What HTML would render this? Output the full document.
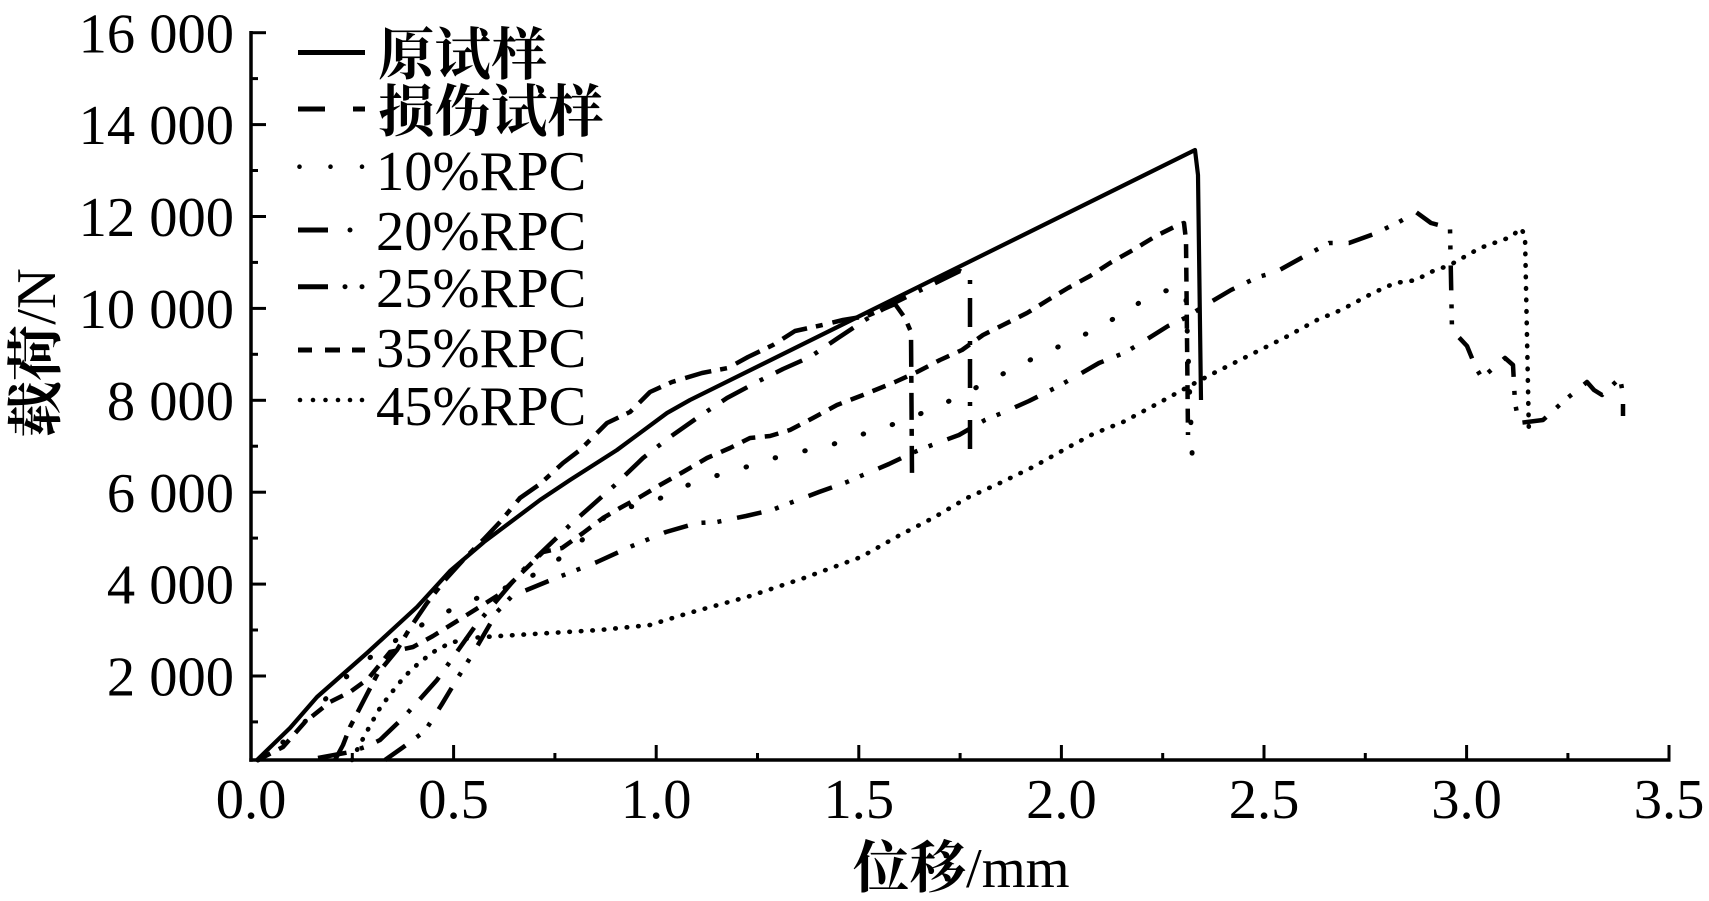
<!DOCTYPE html>
<html><head><meta charset="utf-8"><style>
html,body{margin:0;padding:0;background:#fff;}
svg{display:block;}
text{font-family:"Liberation Serif","Noto Serif CJK SC",serif;fill:#000;}
.cjk{font-family:"Noto Serif CJK SC","Liberation Serif",serif;font-weight:bold;}
</style></head><body>
<svg width="1709" height="901" viewBox="0 0 1709 901" xmlns="http://www.w3.org/2000/svg">
<rect width="1709" height="901" fill="#fff"/>

<!-- axes -->
<g stroke="#000" stroke-width="3.5" fill="none">
<line x1="251" y1="31" x2="251" y2="761.7"/>
<line x1="249.3" y1="760" x2="1670.5" y2="760"/>
</g>
<!-- y ticks -->
<g stroke="#000" stroke-width="3">
<line x1="251" y1="32.7" x2="266" y2="32.7"/><line x1="251" y1="124.6" x2="266" y2="124.6"/>
<line x1="251" y1="216.5" x2="266" y2="216.5"/><line x1="251" y1="308.4" x2="266" y2="308.4"/>
<line x1="251" y1="400.3" x2="266" y2="400.3"/><line x1="251" y1="492.2" x2="266" y2="492.2"/>
<line x1="251" y1="584.1" x2="266" y2="584.1"/><line x1="251" y1="676" x2="266" y2="676"/>
<line x1="251" y1="78.6" x2="258" y2="78.6"/><line x1="251" y1="170.5" x2="258" y2="170.5"/>
<line x1="251" y1="262.4" x2="258" y2="262.4"/><line x1="251" y1="354.3" x2="258" y2="354.3"/>
<line x1="251" y1="446.2" x2="258" y2="446.2"/><line x1="251" y1="538.1" x2="258" y2="538.1"/>
<line x1="251" y1="630" x2="258" y2="630"/><line x1="251" y1="721.9" x2="258" y2="721.9"/>
</g>
<!-- x ticks -->
<g stroke="#000" stroke-width="3">
<line x1="453.6" y1="760" x2="453.6" y2="745"/><line x1="656.2" y1="760" x2="656.2" y2="745"/>
<line x1="858.8" y1="760" x2="858.8" y2="745"/><line x1="1061.4" y1="760" x2="1061.4" y2="745"/>
<line x1="1264" y1="760" x2="1264" y2="745"/><line x1="1466.6" y1="760" x2="1466.6" y2="745"/>
<line x1="1669" y1="760" x2="1669" y2="745"/>
<line x1="352.3" y1="760" x2="352.3" y2="753"/><line x1="554.9" y1="760" x2="554.9" y2="753"/>
<line x1="757.5" y1="760" x2="757.5" y2="753"/><line x1="960.1" y1="760" x2="960.1" y2="753"/>
<line x1="1162.7" y1="760" x2="1162.7" y2="753"/><line x1="1365.3" y1="760" x2="1365.3" y2="753"/>
<line x1="1567.9" y1="760" x2="1567.9" y2="753"/>
</g>

<!-- y tick labels -->
<g font-size="56.5" text-anchor="end">
<text x="234" y="52.3">16 000</text>
<text x="234" y="144.2">14 000</text>
<text x="234" y="236.1">12 000</text>
<text x="234" y="328">10 000</text>
<text x="234" y="419.9">8 000</text>
<text x="234" y="511.8">6 000</text>
<text x="234" y="603.7">4 000</text>
<text x="234" y="695.6">2 000</text>
</g>
<!-- x tick labels -->
<g font-size="56.5" text-anchor="middle">
<text x="251" y="818">0.0</text>
<text x="453.6" y="818">0.5</text>
<text x="656.2" y="818">1.0</text>
<text x="858.8" y="818">1.5</text>
<text x="1061.4" y="818">2.0</text>
<text x="1264" y="818">2.5</text>
<text x="1466.6" y="818">3.0</text>
<text x="1669" y="818">3.5</text>
</g>

<!-- axis titles -->
<text x="853" y="887" font-size="56.5"><tspan class="cjk">位移</tspan>/mm</text>
<text transform="translate(55,353) rotate(-90)" font-size="56.5" text-anchor="middle"><tspan class="cjk">载荷</tspan>/N</text>

<!-- legend -->
<g font-size="56.5">
<text x="378" y="74" class="cjk">原试样</text>
<text x="378" y="131" class="cjk">损伤试样</text>
<text x="376" y="190">10%RPC</text>
<text x="376" y="250">20%RPC</text>
<text x="376" y="307">25%RPC</text>
<text x="376" y="367">35%RPC</text>
<text x="376" y="425">45%RPC</text>
</g>
<g stroke="#000" stroke-width="5" fill="none">
<line x1="298" y1="52.5" x2="365" y2="52.5"/>
<line x1="298" y1="109" x2="325" y2="109"/><line x1="353" y1="109" x2="365" y2="109"/>
<line x1="298" y1="230" x2="328" y2="230"/>
<line x1="298" y1="286.7" x2="328" y2="286.7"/>
<line x1="298" y1="350" x2="312" y2="350"/><line x1="325" y1="350" x2="340" y2="350"/><line x1="352" y1="350" x2="365" y2="350"/>
</g>
<g fill="#000">
<circle cx="299.5" cy="166.7" r="2.3"/><circle cx="330.5" cy="166.7" r="2.3"/><circle cx="362" cy="166.7" r="2.3"/>
<circle cx="350" cy="230" r="2.5"/>
<circle cx="345" cy="286.7" r="2.5"/><circle cx="362" cy="286.7" r="2.5"/>
<circle cx="300" cy="400" r="2.3"/><circle cx="313" cy="400" r="2.3"/><circle cx="325.5" cy="400" r="2.3"/>
<circle cx="338" cy="400" r="2.3"/><circle cx="350" cy="400" r="2.3"/><circle cx="362" cy="400" r="2.3"/>
</g>

<!-- curves -->
<g fill="none" stroke="#000" stroke-linejoin="round">
<!-- 原试样 solid -->
<path stroke-width="4.2" d="M256,761 L290,728 L317,697 L367,653 L417,607 L450,571 L484,542 L540,500 L570,480 L617,450 L667,413 L690,400 L1195,150 L1198,175 L1201,400"/>
<!-- 损伤试样 long-short dash -->
<path stroke-width="4.5" stroke-dasharray="27 9 7 10" d="M335,760 L343,745 L350,727 L365,698 L378,673 L397,650 L410,628 L427,603 L445,580 L465,558 L483,540 L500,522 L520,498 L540,484 L563,463 L580,450 L607,423 L630,412 L650,392 L672,382 L702,373 L728,368 L748,357 L773,345 L795,331 L818,326 L843,320 L867,316 L895,304 L905,318 L911,332 L912,475"/>
<!-- 20%RPC dash-dot -->
<path stroke-width="4.5" stroke-dasharray="29 14 4 14" d="M318,758 L350,752 L368,746 L380,740 L403,718 L437,680 L476,625 L520,573 L570,525 L615,485 L643,458 L670,437 L697,418 L727,398 L757,382 L783,369 L810,357 L838,338 L865,320 L890,305 L960,271 L970,276 L970,450"/>
<!-- 25%RPC dash-dot-dot -->
<path stroke-width="4.5" stroke-dasharray="25 14 4 12 4 16" d="M385,760 L402,748 L425,731 L442,704 L457,679 L475,650 L497,612 L512,596 L534,587 L551,580 L569,573 L597,562 L632,546 L666,532 L697,523 L717,522 L746,516 L772,510 L790,503 L819,492 L847,482 L863,475 L889,464 L912,453 L932,445 L959,435 L985,420 L1002,413 L1029,401 L1055,388 L1073,378 L1099,363 L1124,353 L1141,343 L1168,326 L1185,318 L1209,303 L1231,290 L1258,277 L1276,272 L1303,257 L1329,243 L1349,243 L1374,234 L1399,222 L1416,212 L1431,223 L1450,228 L1452,330 L1467,346 L1476,368 L1482,378 L1505,358 L1513,365 L1515,403 L1519,423 L1543,420 L1565,400 L1587,382 L1594,390 L1602,395 L1620,378 L1623,394 L1623,416"/>
<!-- 35%RPC short dash -->
<path stroke-width="4.5" stroke-dasharray="14 9.5" d="M258,760 L283,747 L305,722 L330,702 L350,692 L368,679 L390,652 L413,647 L433,636 L462,618 L500,594 L543,552 L562,548 L583,533 L603,518 L620,508 L640,497 L660,485 L683,472 L707,458 L730,448 L750,438 L770,436 L790,430 L813,418 L837,405 L863,395 L895,382 L917,372 L940,360 L962,350 L983,335 L1003,325 L1027,313 L1048,300 L1068,288 L1090,276 L1110,263 L1133,250 L1156,236 L1176,226 L1184,223 L1186,240 L1188,435"/>
<!-- 10%RPC sparse dots -->
<path stroke-width="5" stroke-linecap="round" stroke-dasharray="0.5 30" d="M258,760 L293,735 L320,705 L345,678 L372,656 L407,633 L440,615 L472,600 L500,590 L525,580 L550,565 L575,548 L600,520 L625,508 L653,502 L680,488 L708,478 L737,470 L767,460 L797,452 L823,448 L850,438 L880,429 L905,420 L932,409 L958,397 L985,383 L1030,360 L1090,332 L1115,318 L1139,303 L1165,291 L1182,287 L1186,300 L1193,476"/>
<!-- 45%RPC dense dots -->
<path stroke-width="4.6" stroke-linecap="round" stroke-dasharray="0.5 11" d="M352,760 L358,748 L365,735 L372,722 L380,708 L392,692 L405,676 L420,662 L435,651 L450,643 L470,638 L500,636 L550,633 L600,630 L650,625 L689,613 L747,597 L804,578 L861,557 L900,535 L933,518 L967,498 L1000,483 L1033,467 L1067,448 L1093,434 L1123,422 L1155,405 L1195,383 L1214,373 L1254,353 L1286,337 L1317,320 L1341,310 L1373,293 L1395,283 L1417,280 L1428,273 L1450,265 L1480,248 L1511,237 L1521,228 L1525,236 L1529,437"/>
</g>
</svg>
</body></html>
